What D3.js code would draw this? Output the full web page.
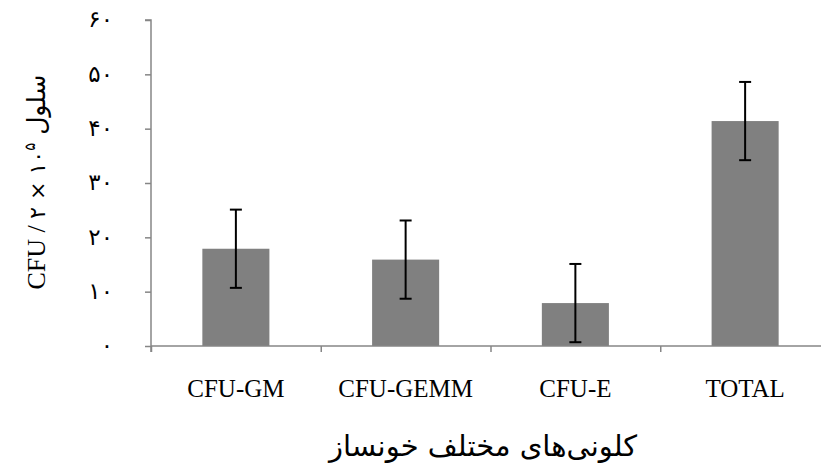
<!DOCTYPE html>
<html>
<head>
<meta charset="utf-8">
<script src="https://cdn.jsdelivr.net/npm/d3@7"></script>
<style>
  body { margin: 0; background: #fff; }
  text { font-family: "Liberation Serif", "DejaVu Sans", serif; fill: #000; }
</style>
</head>
<body>
<div id="chart"></div>
<script>
// colony types and mean counts
const categories = ["CFU-GM", "CFU-GEMM", "CFU-E", "TOTAL"];
const values = [17.9, 15.9, 7.9, 41.4];
const errors = [7.2, 7.2, 7.2, 7.2];
const yTicks = [0, 10, 20, 30, 40, 50, 60];

const width = 821, height = 476;
const margin = {top: 20, right: -9, bottom: 130, left: 151};

const persian = n => String(n).replace(/\d/g, d => "۰۱۲۳۴۵۶۷۸۹"[d]);

const svg = d3.select("#chart").append("svg")
    .attr("width", width)
    .attr("height", height);

const plotW = width - margin.left - margin.right;
const plotH = height - margin.top - margin.bottom;

const g = svg.append("g")
    .attr("transform", `translate(${margin.left},${margin.top})`);

const x = d3.scaleBand()
    .domain(categories)
    .range([0, plotW])
    .paddingInner(0.605)
    .paddingOuter(0.3025);

const y = d3.scaleLinear()
    .domain([0, 60])
    .range([plotH, 0]);

// boundaries between categories for bottom ticks
const xb = d3.scaleLinear().domain([0, categories.length]).range([0, plotW]);

// bars
g.selectAll("rect.bar")
    .data(values)
    .enter().append("rect")
    .attr("class", "bar")
    .attr("x", (d, i) => x(categories[i]))
    .attr("y", d => y(d))
    .attr("width", x.bandwidth())
    .attr("height", d => plotH - y(d))
    .attr("fill", "#808080");

// error bars
const eb = g.selectAll("g.err")
    .data(values)
    .enter().append("g")
    .attr("class", "err")
    .attr("stroke", "#000")
    .attr("stroke-width", 2);

eb.append("line")
    .attr("x1", (d, i) => x(categories[i]) + x.bandwidth() / 2)
    .attr("x2", (d, i) => x(categories[i]) + x.bandwidth() / 2)
    .attr("y1", (d, i) => y(d + errors[i]))
    .attr("y2", (d, i) => y(d - errors[i]));

[1, -1].forEach(s => {
    eb.append("line")
        .attr("x1", (d, i) => x(categories[i]) + x.bandwidth() / 2 - 6)
        .attr("x2", (d, i) => x(categories[i]) + x.bandwidth() / 2 + 6)
        .attr("y1", (d, i) => y(d + s * errors[i]))
        .attr("y2", (d, i) => y(d + s * errors[i]));
});

// y axis
const yAxis = g.append("g")
    .call(d3.axisLeft(y).tickValues(yTicks).tickSize(6).tickPadding(32).tickFormat(persian));
yAxis.select(".domain").attr("stroke", "#868686").attr("stroke-width", 1.5)
    .attr("d", `M0,${plotH + 6}V0H-6`);
yAxis.selectAll(".tick line").attr("stroke", "#868686").attr("stroke-width", 1.5);
yAxis.selectAll(".tick text")
    .style("font-family", "'DejaVu Sans', sans-serif")
    .style("font-size", "23px")
    .attr("dy", "0.3em");

// x axis
const xAxis = g.append("g")
    .attr("transform", `translate(0,${plotH})`)
    .call(d3.axisBottom(xb).ticks(categories.length).tickSize(6).tickFormat(""));
xAxis.select(".domain").attr("stroke", "#868686").attr("stroke-width", 1.5)
    .attr("d", `M0,0H${plotW}`);
xAxis.selectAll(".tick line").attr("stroke", "#868686").attr("stroke-width", 1.5);

// category labels
g.selectAll("text.cat")
    .data(categories)
    .enter().append("text")
    .attr("class", "cat")
    .attr("x", d => x(d) + x.bandwidth() / 2)
    .attr("y", plotH + 51)
    .attr("text-anchor", "middle")
    .style("font-size", "25px")
    .text(d => d);

// x title
svg.append("text")
    .attr("x", 483)
    .attr("y", 456)
    .attr("text-anchor", "middle")
    .style("font-family", "'DejaVu Sans', sans-serif")
    .style("font-size", "29px")
    .text("کلونی‌های مختلف خونساز");

// y title
const yt = svg.append("text")
    .attr("transform", "translate(45,182) rotate(-90)")
    .attr("text-anchor", "middle")
    .attr("direction", "ltr")
    .style("font-size", "26px");
yt.append("tspan").text("CFU / ");
yt.append("tspan").style("font-family", "'DejaVu Sans', sans-serif").style("font-size", "22px")
    .text("۲ × ۱۰");
yt.append("tspan").attr("dy", -10).style("font-family", "'DejaVu Sans', sans-serif").style("font-size", "15px")
    .text("۵");
yt.append("tspan").attr("dy", 10).style("font-family", "'DejaVu Sans', sans-serif").style("font-size", "25px")
    .text(" سلول");
</script>
</body>
</html>
